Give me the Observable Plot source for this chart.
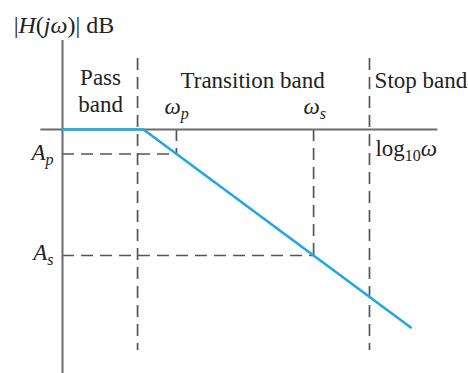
<!DOCTYPE html>
<html><head><meta charset="utf-8">
<script src="https://cdn.jsdelivr.net/npm/d3@7"></script>
<script src="https://cdn.jsdelivr.net/npm/@observablehq/plot@0.6"></script>
<style>body{margin:0;background:#fff}</style>
</head><body><div id="chart"></div>
<script>
// Data (x in log10(omega) units from the vertical axis, y in dB)
const omegaP = 4.22, omegaS = 9.3;
const Ap = -2.45, As = -12.6;
const passEdge = 2.78, stopEdge = 11.37;
const responseX = [0, 3.0, 12.9];
const responseY = [0, 0, -19.8];
const xAxisExtent = [-0.8, 13.9];
const yAxisExtent = [8.9, -24.4];
const bandLineExtent = [7.1, -22.1];

const labelText = ["|<i>H</i>(<i>jω</i>)| dB", "Pass", "band", "Transition band", "Stop band",
  "<i>ω</i><isub>p</isub>", "<i>ω</i><isub>s</isub>", "log<sub>10</sub><i>ω</i>",
  "<i>A</i><isub>p</isub>", "<i>A</i><isub>s</isub>"];
const labelX = [-1.81, 1.41, 1.41, 4.37, 11.56, 3.78, 8.93, 11.59, -0.33, -0.33];
const labelY = [9.7, 4.45, 1.8, 4.2, 4.2, 1.6, 1.6, -2.6, -3.0, -13.0];
const labelAnchor = ["start", "middle", "middle", "start", "start", "start", "start", "start", "end", "end"];
const labelSize = [24, 23, 23, 23, 23, 23, 23, 23, 23, 23];

const response = responseX.map((x, i) => ({x, y: responseY[i]}));
const labels = labelText.map((text, i) => ({text, x: labelX[i], y: labelY[i], anchor: labelAnchor[i], size: labelSize[i]}));
const specs = [{x: omegaP, y: Ap}, {x: omegaS, y: As}];

const dash = {stroke: "#555", strokeWidth: 1.7, strokeDasharray: "12,7"};
const axisStyle = {stroke: "#6b6b6b", strokeWidth: 2};
const font = {fontFamily: "Liberation Serif", fill: "#222", lineAnchor: "bottom", lineHeight: 1};

const chart = Plot.plot({
  width: 468, height: 373,
  marginTop: 0, marginRight: 0, marginBottom: 0, marginLeft: 0,
  x: {domain: [-62 / 27, 406 / 27], axis: null},
  y: {domain: [-24.4, 12.9], axis: null},
  style: {background: "#fff"},
  marks: [
    Plot.ruleX([passEdge, stopEdge], {y1: bandLineExtent[0], y2: bandLineExtent[1], ...dash}),
    Plot.ruleX(specs, {x: "x", y1: 0, y2: "y", ...dash}),
    Plot.ruleY(specs, {y: "y", x1: 0, x2: "x", ...dash}),
    Plot.ruleY([0], {x1: xAxisExtent[0], x2: xAxisExtent[1], ...axisStyle}),
    Plot.ruleX([0], {y1: yAxisExtent[0], y2: yAxisExtent[1], ...axisStyle}),
    Plot.line(response, {x: "x", y: "y", stroke: "#22a8e0", strokeWidth: 2.6}),
    ...[24, 23].flatMap(sz => ["start", "middle", "end"].map(a =>
      Plot.text(labels.filter(d => d.anchor === a && d.size === sz),
        {x: "x", y: "y", text: "text", textAnchor: a, fontSize: sz, ...font})))
  ]
});
document.getElementById("chart").appendChild(chart);

// Render simple markup (<i>, <sub>, <isub>) as tspans
const NS = "http://www.w3.org/2000/svg";
chart.querySelectorAll("text").forEach(el => {
  const s = el.textContent;
  if (!s.includes("<")) return;
  el.textContent = "";
  const re = /<(i|sub|isub)>(.*?)<\/\1>|([^<]+)/g;
  let m, shift = 0;
  while ((m = re.exec(s))) {
    const t = document.createElementNS(NS, "tspan");
    const sub = m[1] === "sub" || m[1] === "isub";
    t.textContent = m[3] !== undefined ? m[3] : m[2];
    if (m[1] === "i" || m[1] === "isub") t.setAttribute("font-style", "italic");
    if (sub) {
      t.setAttribute("font-size", 16);
      t.setAttribute("dy", 5 - shift);
      shift = 5;
    } else if (shift) {
      t.setAttribute("dy", -shift);
      shift = 0;
    }
    el.appendChild(t);
  }
});
</script>
</body></html>
